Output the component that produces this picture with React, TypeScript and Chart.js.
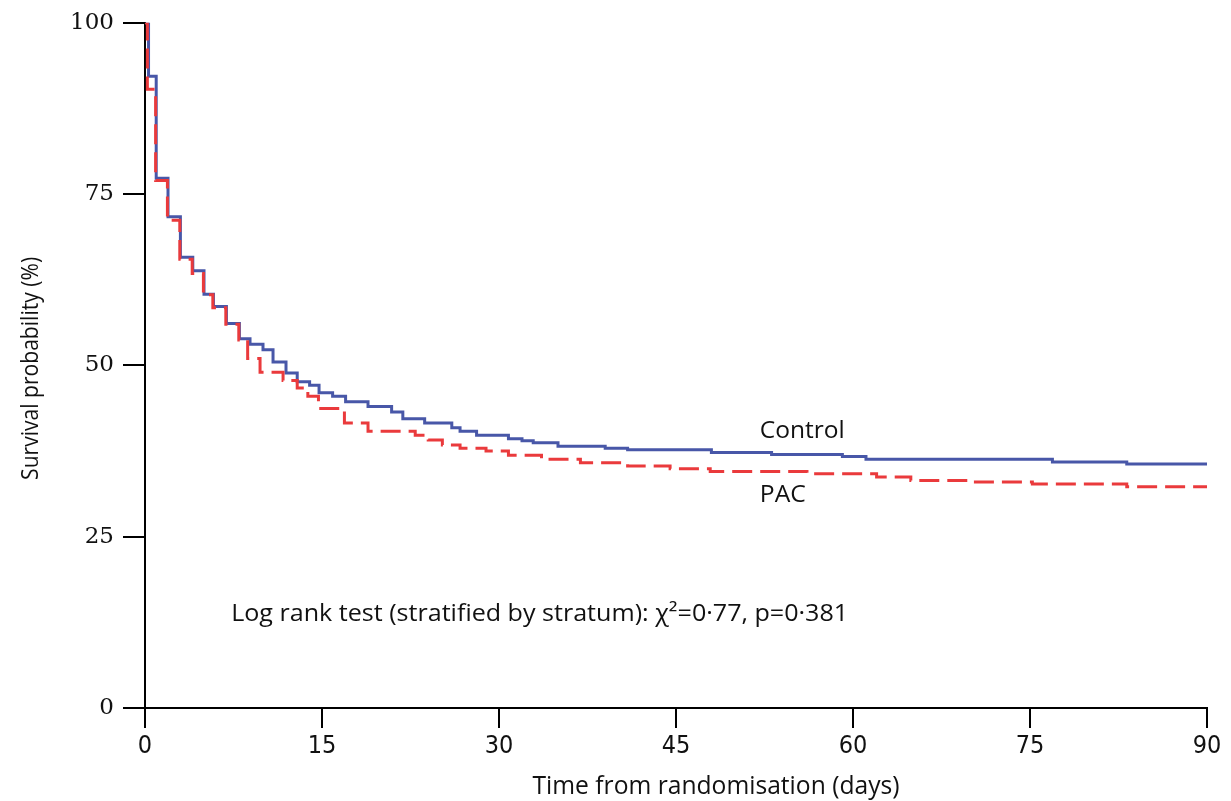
import React, { useEffect, useRef } from "react";
import { Chart, registerables } from "chart.js";

Chart.register(...registerables);

// Kaplan–Meier steps: survival (%) after each event time (days)
const controlDays = [0, 0.3, 0.95, 1.95, 3.0, 4.05, 5.0, 5.8, 6.9, 8.0, 8.9, 10.0, 10.85, 11.95, 12.9, 13.95, 14.75, 15.9, 17.0, 18.9, 20.9, 21.85, 23.7, 26.0, 26.7, 28.1, 30.8, 31.95, 32.9, 35.0, 39.0, 40.9, 48.0, 53.1, 59.1, 61.1, 76.9, 83.2, 90];
const controlSurvival = [100, 92.2, 77.3, 71.7, 65.8, 63.8, 60.4, 58.6, 56.1, 53.9, 53.1, 52.3, 50.5, 48.9, 47.6, 47.1, 46.0, 45.5, 44.7, 44.0, 43.2, 42.2, 41.6, 40.9, 40.4, 39.8, 39.3, 39.0, 38.7, 38.2, 37.9, 37.7, 37.3, 37.0, 36.7, 36.3, 35.9, 35.6, 35.6];

const pacDays = [0, 0.2, 0.9, 1.9, 2.95, 4.0, 4.95, 5.75, 6.85, 7.95, 8.7, 9.75, 11.7, 12.9, 13.8, 14.7, 16.9, 18.9, 22.9, 24.0, 25.2, 26.7, 28.9, 30.8, 33.6, 36.9, 40.9, 44.5, 47.9, 56.1, 62.0, 64.9, 69.9, 75.2, 83.2, 90];
const pacSurvival = [100, 90.3, 77.0, 71.2, 65.5, 63.4, 60.3, 58.4, 56.0, 53.7, 51.0, 49.0, 47.8, 46.7, 45.5, 43.7, 41.6, 40.4, 39.8, 39.1, 38.4, 37.9, 37.5, 36.9, 36.3, 35.8, 35.3, 34.9, 34.5, 34.2, 33.7, 33.2, 33.0, 32.7, 32.3, 32.3];

const xTickStep = 15;
const yTickStep = 25;

const yAxisTitle = "Survival probability (%)";
const xAxisTitle = "Time from randomisation (days)";
const controlLabel = "Control";
const pacLabel = "PAC";
const logRankText = "Log rank test (stratified by stratum): \u03C7\u00B2=0\u00B777, p=0\u00B7381";

const toPoints = (days: number[], surv: number[]) =>
  days.map((d, i) => ({ x: d, y: surv[i] }));

// draw text squeezed/stretched to a given width
function fitText(
  ctx: CanvasRenderingContext2D,
  text: string,
  cx: number,
  cy: number,
  width: number,
  rotate = 0,
  align: "left" | "center" = "center"
) {
  const w = ctx.measureText(text).width;
  const sx = width / w;
  ctx.save();
  ctx.translate(cx, cy);
  if (rotate) ctx.rotate(rotate);
  ctx.scale(sx, 1);
  ctx.textAlign = align;
  ctx.textBaseline = "middle";
  ctx.fillText(text, 0, 0);
  ctx.restore();
}

const textPlugin = {
  id: "kmText",
  afterDraw(chart: any) {
    const { ctx, scales } = chart;
    const x = scales.x;
    const y = scales.y;
    ctx.save();
    ctx.fillStyle = "#111111";

    ctx.font = '24px "Open Sans"';
    fitText(ctx, controlLabel, x.getPixelForValue(52.1), y.getPixelForValue(40.4), 85, 0, "left");
    fitText(ctx, pacLabel, x.getPixelForValue(52.1), y.getPixelForValue(31.0), 46, 0, "left");

    ctx.font = '23px "Open Sans"';
    fitText(ctx, logRankText, x.getPixelForValue(7.3), y.getPixelForValue(13.6), 617, 0, "left");

    ctx.font = '23px "Open Sans"';
    fitText(ctx, yAxisTitle, 31, (chart.chartArea.top + chart.chartArea.bottom) / 2 + 3, 223, -Math.PI / 2);

    ctx.font = '25px "Open Sans"';
    fitText(ctx, xAxisTitle, 716, 787, 367);
    ctx.restore();
  },
};

export default function App() {
  const canvasRef = useRef<HTMLCanvasElement | null>(null);

  useEffect(() => {
    if (!canvasRef.current) return;
    const chart = new Chart(canvasRef.current, {
      type: "line",
      data: {
        datasets: [
          {
            label: pacLabel,
            data: toPoints(pacDays, pacSurvival),
            borderColor: "#ea3a3c",
            borderWidth: 3,
            borderDash: [20, 8],
            stepped: "before",
            pointRadius: 0,
            fill: false,
          },
          {
            label: controlLabel,
            data: toPoints(controlDays, controlSurvival),
            borderColor: "#4857a8",
            borderWidth: 3,
            stepped: "before",
            pointRadius: 0,
            fill: false,
          },
        ],
      },
      options: {
        animation: false,
        responsive: false,
        devicePixelRatio: 1,
        layout: { padding: { left: 0, top: 22, right: 24, bottom: 0 } },
        plugins: {
          legend: { display: false },
          tooltip: { enabled: false },
        },
        scales: {
          x: {
            type: "linear",
            min: 0,
            max: 90,
            border: { color: "#000000", width: 2 },
            grid: {
              drawOnChartArea: false,
              color: "#000000",
              lineWidth: 2,
              tickLength: 20,
            },
            ticks: {
              stepSize: xTickStep,
              color: "#111111",
              padding: 3,
              maxRotation: 0,
              font: { family: '"Liberation Sans Narrow", "DejaVu Sans Condensed", "Open Sans"', size: 25 },
            },
            afterFit: (scale: any) => {
              scale.height = 93;
            },
          },
          y: {
            type: "linear",
            min: 0,
            max: 100,
            border: { color: "#000000", width: 2 },
            grid: {
              drawOnChartArea: false,
              color: "#000000",
              lineWidth: 2,
              tickLength: 22,
            },
            ticks: {
              stepSize: yTickStep,
              color: "#111111",
              padding: 9,
              font: { family: '"DejaVu Serif"', size: 23 },
            },
            afterFit: (scale: any) => {
              scale.width = 145;
            },
          },
        },
      },
      plugins: [textPlugin],
    });
    return () => chart.destroy();
  }, []);

  return (
    <div style={{ position: "fixed", left: 0, top: 0, width: 1231, height: 801, background: "#ffffff" }}>
      <canvas ref={canvasRef} width={1231} height={801} />
    </div>
  );
}
